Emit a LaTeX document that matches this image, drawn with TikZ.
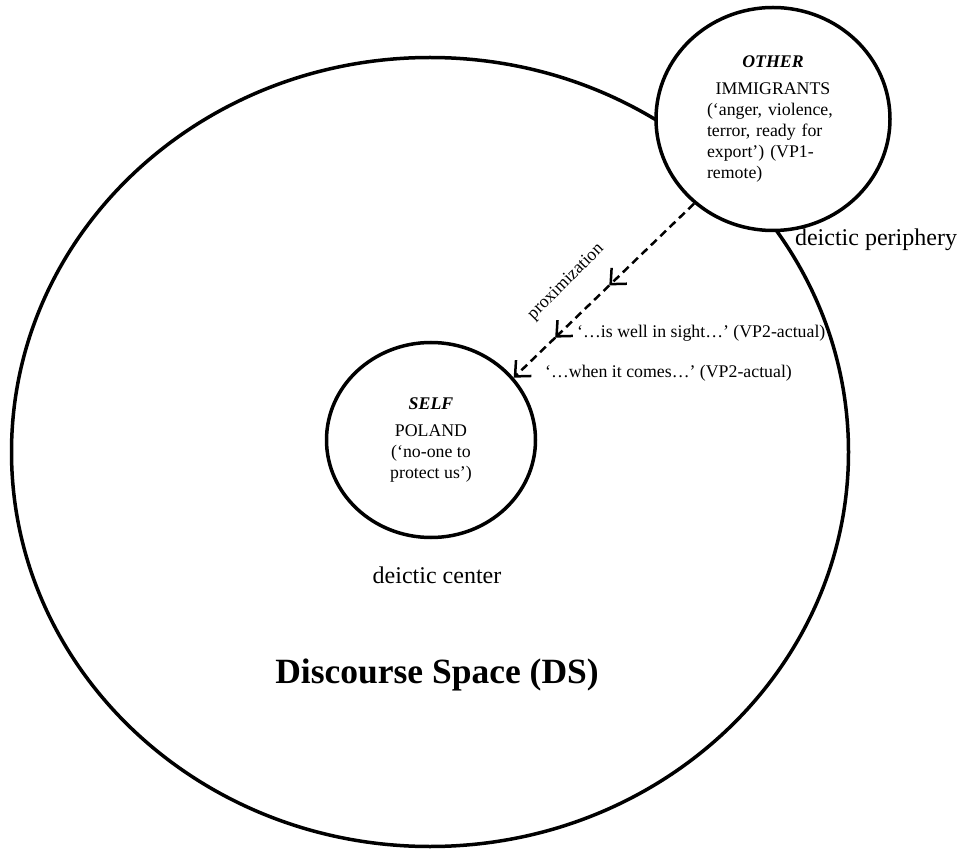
\documentclass[tikz,border=0pt]{standalone}
\usepackage{fontspec}
\setmainfont{Liberation Serif}
\usetikzlibrary{shapes.geometric, positioning, arrows.meta, calc}

\begin{document}
\begin{tikzpicture}[x=1pt, y=-1pt,
    zone/.style={ellipse, draw, line width=3.5pt, inner sep=0pt},
    body/.style={font=\fontsize{17.8}{21}\selectfont},
    tag/.style={font=\fontsize{24}{28}\selectfont},
    prox/.style={dash pattern=on 8pt off 5pt, line width=2.5pt,
        -{Straight Barb[length=12pt, width=22pt, line width=2.5pt]}}]
    \useasboundingbox (0,0) rectangle (964,850);

    \node[zone, minimum width=837pt, minimum height=789pt] (ds) at (430,452) {};
    \node[zone, fill=white, minimum width=234pt, minimum height=223pt, body,
        text width=132pt, align=left] (other) at (773,119)
        {{\centering\textbf{\textit{OTHER}}\\[6pt] IMMIGRANTS\par}
        (‘anger, violence,\\ terror, ready for\\ export’) (VP1-\\ remote)};
    \node[zone, fill=white, minimum width=209pt, minimum height=195pt, body,
        align=center] (self) at (431,440)
        {\textbf{\textit{SELF}}\\[6pt] POLAND\\ (‘no-one to\\ protect us’)};

    \node[tag] (center) at (437,575) {deictic center};
    \node[tag] (periphery) at (876,240) {deictic periphery};
    \node[font=\fontsize{35.5}{40}\selectfont\bfseries] (dsname) at (437,675) {Discourse Space (DS)};

    % proximization arrow
    \coordinate (s) at (other.-133);
    \coordinate (e) at (self.37);
    \coordinate (a1) at ($(s)!0.47!(e)$);
    \coordinate (a2) at ($(s)!0.77!(e)$);
    \path[prox]
    (s) edge (a1)
    (a1) edge (a2)
    (a2) edge (e);

    \node[body, rotate=45] (proxlbl) at (566,282) {proximization};
    \node[body, anchor=west, inner sep=0pt] (sight) at (577,333) {‘…is well in sight…’ (VP2-actual)};
    \node[body, anchor=west, inner sep=0pt] (comes) at (545,373) {‘…when it comes…’ (VP2-actual)};
\end{tikzpicture}
\end{document}
